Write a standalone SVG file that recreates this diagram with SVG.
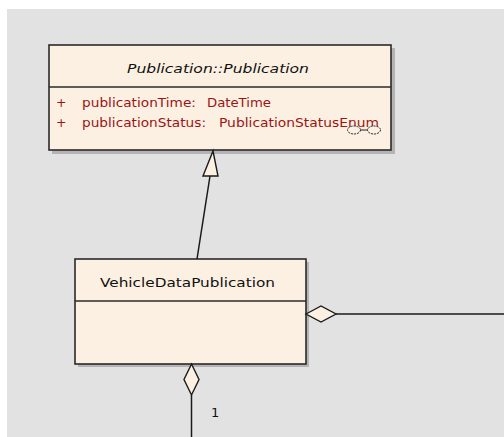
<svg xmlns="http://www.w3.org/2000/svg" width="504" height="437" viewBox="0 0 504 437">
<style>
.box{fill:#fbf0e2;stroke:#2a2a2a;stroke-width:1.6}
.shadow{fill:#b4b4b4}
.sep{stroke:#2a2a2a;stroke-width:1.4}
.t{font-family:"DejaVu Sans","Liberation Sans",sans-serif;font-size:13px;fill:#111}
.it{font-style:italic}
.a{font-family:"DejaVu Sans","Liberation Sans",sans-serif;font-size:12.5px;fill:#9c1414}
.ln{stroke:#1a1a1a;stroke-width:1.5;fill:none}
.dia{fill:#fbf0e2;stroke:#1a1a1a;stroke-width:1.4}
</style>
<rect x="0" y="0" width="504" height="437" fill="#ffffff"/>
<rect x="7" y="9" width="497" height="428" fill="#e2e2e2"/>
<g id="publication">
<rect class="shadow" x="52" y="48" width="343" height="106"/>
<rect class="box" x="49" y="45" width="342" height="105"/>
<line class="sep" x1="49" y1="87" x2="391" y2="87"/>
<text class="t it" x="127" y="73" textLength="182" lengthAdjust="spacingAndGlyphs">Publication::Publication</text>
<text class="a" x="56" y="107">+</text>
<text class="a" x="82" y="107" textLength="114" lengthAdjust="spacingAndGlyphs">publicationTime:</text>
<text class="a" x="207" y="107" textLength="64" lengthAdjust="spacingAndGlyphs">DateTime</text>
<text class="a" x="56" y="127">+</text>
<text class="a" x="82" y="127" textLength="124" lengthAdjust="spacingAndGlyphs">publicationStatus:</text>
<text class="a" x="219" y="127" textLength="160" lengthAdjust="spacingAndGlyphs">PublicationStatusEnum</text>
<line x1="360" y1="130" x2="368" y2="130" stroke="#222" stroke-width="1"/>
<ellipse cx="354" cy="130" rx="6.5" ry="4" fill="#fbf0e2" stroke="#222" stroke-width="1" stroke-dasharray="2,1"/>
<ellipse cx="374" cy="130" rx="6.5" ry="4" fill="#fbf0e2" stroke="#222" stroke-width="1" stroke-dasharray="2,1"/>
</g>
<g id="vehicleDataPublication">
<rect class="shadow" x="78" y="262" width="231" height="105"/>
<rect class="box" x="75" y="259" width="231" height="105"/>
<line class="sep" x1="75" y1="301" x2="306" y2="301"/>
<text class="t" x="100" y="287" textLength="175" lengthAdjust="spacingAndGlyphs">VehicleDataPublication</text>
</g>
<g id="connectors">
<line class="ln" x1="197" y1="259" x2="210" y2="176"/>
<polygon class="dia" points="213,151 218,176 203,176"/>
<polygon class="dia" points="306,314 321,306 336,314 321,322"/>
<line class="ln" x1="336" y1="314" x2="504" y2="314"/>
<polygon class="dia" points="191.5,364 199,379.5 191.5,395 184,379.5"/>
<line class="ln" x1="191.5" y1="395" x2="191.5" y2="437"/>
<text class="t" x="211" y="417" font-size="12">1</text>
</g>
</svg>
